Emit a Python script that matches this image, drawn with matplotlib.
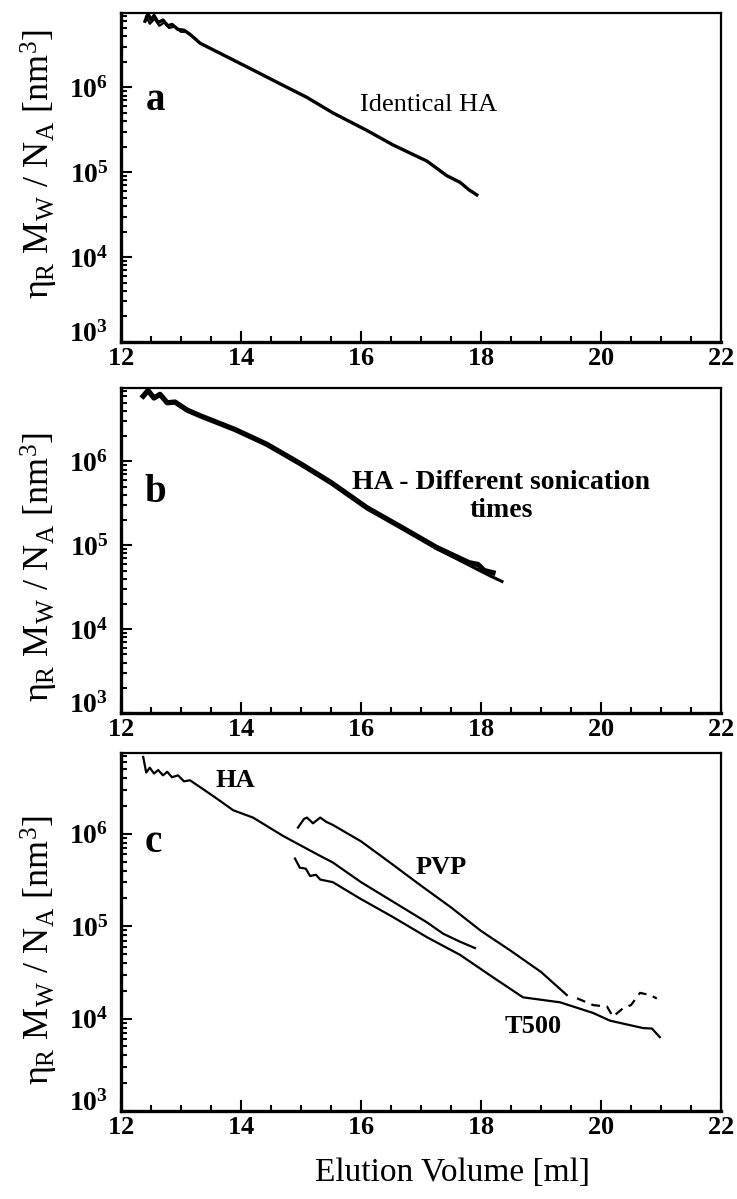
import matplotlib
matplotlib.use('Agg')
import matplotlib.pyplot as plt
from matplotlib.ticker import FixedLocator, MultipleLocator, LogLocator, NullFormatter

plt.rcParams['font.family'] = ['Liberation Serif', 'DejaVu Serif']
plt.rcParams['mathtext.fontset'] = 'custom'
plt.rcParams['mathtext.rm'] = 'Liberation Serif'
plt.rcParams['mathtext.it'] = 'Liberation Serif'
plt.rcParams['mathtext.bf'] = 'Liberation Serif:bold'

# panel a : identical HA
a_x = [12.40, 12.45, 12.50, 12.55, 12.62, 12.70, 12.78, 12.85, 12.95, 13.05, 13.15, 13.32,
       13.87, 14.20, 14.65, 15.10, 15.53, 16.10, 16.53, 17.10, 17.43, 17.65, 17.80, 17.93]
a_y = [6.0e6, 7.4e6, 6.2e6, 7.0e6, 5.8e6, 6.2e6, 5.3e6, 5.5e6, 4.8e6, 4.7e6, 4.2e6, 3.3e6,
       2.1e6, 1.6e6, 1.1e6, 7.6e5, 5.0e5, 3.1e5, 2.1e5, 1.35e5, 9.1e4, 7.6e4, 6.2e4, 5.4e4]
a2_x = [12.42, 12.48, 12.56, 12.64, 12.72, 12.80, 12.90, 13.00, 13.10, 13.25]
a2_y = [6.8e6, 5.6e6, 6.4e6, 5.3e6, 5.8e6, 5.0e6, 5.2e6, 4.5e6, 4.5e6, 3.7e6]

# panel b : HA, different sonication times
b_x = [12.37, 12.45, 12.55, 12.65, 12.77, 12.90, 13.10, 13.32, 13.90, 14.43, 15.00,
       15.50, 16.10, 16.70, 17.25, 17.80, 17.95, 18.05, 18.20]
b_y = [6.0e6, 7.0e6, 5.7e6, 6.3e6, 5.0e6, 5.1e6, 4.1e6, 3.5e6, 2.4e6, 1.6e6, 9.3e5,
       5.6e5, 2.8e5, 1.6e5, 9.5e4, 6.2e4, 5.9e4, 5.0e4, 4.7e4]
b2_x = [17.25, 17.80, 18.10, 18.35]
b2_y = [9.2e4, 5.8e4, 4.5e4, 3.7e4]

# panel c : HA, PVP, T500
ha_x = [12.37, 12.42, 12.48, 12.55, 12.62, 12.70, 12.77, 12.85, 12.95, 13.05, 13.15, 13.32,
        13.60, 13.87, 14.20, 14.70, 15.27, 15.53, 16.00, 16.53, 17.10, 17.37, 17.65, 17.90]
ha_y = [6.8e6, 4.6e6, 5.2e6, 4.5e6, 4.9e6, 4.3e6, 4.7e6, 4.1e6, 4.3e6, 3.7e6, 3.8e6, 3.2e6,
        2.4e6, 1.8e6, 1.5e6, 9.5e5, 6.0e5, 4.9e5, 3.0e5, 1.85e5, 1.1e5, 8.3e4, 6.8e4, 5.8e4]
t500_x = [14.90, 14.98, 15.08, 15.15, 15.25, 15.32, 15.53, 15.98, 16.53, 17.10, 17.65,
          18.20, 18.70, 19.32, 19.87, 20.15, 20.70, 20.85, 20.98]
t500_y = [5.4e5, 4.3e5, 4.2e5, 3.5e5, 3.6e5, 3.2e5, 3.0e5, 2.0e5, 1.26e5, 7.6e4, 4.9e4,
          2.8e4, 1.7e4, 1.5e4, 1.15e4, 9.5e3, 7.9e3, 7.8e3, 6.3e3]
pvp_x = [14.95, 15.05, 15.10, 15.20, 15.32, 15.42, 15.53, 16.00, 16.50, 17.00, 17.50,
         18.00, 18.50, 19.00, 19.43]
pvp_y = [1.17e6, 1.45e6, 1.5e6, 1.3e6, 1.5e6, 1.35e6, 1.25e6, 8.3e5, 4.8e5, 2.75e5, 1.6e5,
         8.9e4, 5.4e4, 3.2e4, 1.8e4]
pvp_tail_x = [19.60, 19.87, 20.10, 20.20, 20.37, 20.50, 20.65, 20.82, 20.93]
pvp_tail_y = [1.66e4, 1.4e4, 1.35e4, 1.05e4, 1.3e4, 1.4e4, 1.9e4, 1.8e4, 1.65e4]

y_ticks = [1e3, 1e4, 1e5, 1e6]
y_ticklabels = [r'$\mathbf{10^{3}}$', r'$\mathbf{10^{4}}$', r'$\mathbf{10^{5}}$', r'$\mathbf{10^{6}}$']
x_ticks = [12, 14, 16, 18, 20, 22]
ylab = r'$\eta_{\mathrm{R}}\ \mathrm{M}_{\mathrm{W}}\ /\ \mathrm{N}_{\mathrm{A}}\ [\mathrm{nm}^{3}]$'

W, H = 737, 1199
fig = plt.figure(figsize=(W / 100, H / 100), dpi=100)


def make_ax(top, bottom, label_y):
    ax = fig.add_axes([121 / W, (H - bottom) / H, 600 / W, (bottom - top) / H])
    ax.set_xlim(12, 22)
    ax.set_yscale('log')
    ax.set_ylim(1e3, 7.5e6)
    ax.xaxis.set_major_locator(FixedLocator(x_ticks))
    ax.xaxis.set_minor_locator(MultipleLocator(0.5))
    ax.yaxis.set_major_locator(FixedLocator(y_ticks))
    ax.set_yticklabels(y_ticklabels)
    ax.set_xticklabels([r'$\mathbf{%d}$' % t for t in x_ticks])
    ax.yaxis.set_minor_locator(LogLocator(base=10, subs=range(2, 10)))
    ax.yaxis.set_minor_formatter(NullFormatter())
    ax.tick_params(which='both', direction='in', top=False, right=False, width=1.5)
    ax.tick_params(which='major', length=8)
    ax.tick_params(which='minor', length=4)
    ax.tick_params(axis='x', pad=4, labelsize=19)
    ax.tick_params(axis='y', pad=9, labelsize=20)
    for s in ax.spines.values():
        s.set_linewidth(1.6)
    ax.spines['bottom'].set_linewidth(2.4)
    ax.spines['left'].set_linewidth(2.4)
    ax.set_ylabel(ylab, fontsize=26)
    ax.yaxis.set_label_coords(-0.102, label_y)
    # 10^3 sits on the corner, clear of the "12"
    ax.get_yticklabels()[0].set_va('baseline')
    return ax


ax1 = make_ax(13, 342, 0.54)
ax1.plot(a_x, a_y, color='black', lw=2.4)
ax1.plot(a2_x, a2_y, color='black', lw=1.6)
ax1.text(12.58, 7.0e5, 'a', fontsize=28, fontweight='bold', ha='center', va='center')
ax1.text(17.12, 6.2e5, 'Identical HA', fontsize=19, ha='center', va='center')

ax2 = make_ax(388, 713, 0.45)
ax2.plot(b_x, b_y, color='black', lw=3.8)
ax2.plot(b2_x, b2_y, color='black', lw=2.2)
ax2.text(12.58, 4.3e5, 'b', fontsize=28, fontweight='bold', ha='center', va='center')
ax2.text(18.34, 3.8e5, 'HA - Different sonication\ntimes', fontsize=20, fontweight='bold',
         ha='center', va='center', linespacing=1.15)

ax3 = make_ax(753, 1111, 0.45)
ax3.plot(ha_x, ha_y, color='black', lw=1.6)
ax3.plot(t500_x, t500_y, color='black', lw=1.6)
ax3.plot(pvp_x, pvp_y, color='black', lw=1.6)
ax3.plot(pvp_tail_x, pvp_tail_y, color='black', lw=1.6, ls=(0, (4, 3)))
ax3.text(12.53, 8.0e5, 'c', fontsize=28, fontweight='bold', ha='center', va='center')
ax3.text(13.9, 3.8e6, 'HA', fontsize=19, fontweight='bold', ha='center', va='center')
ax3.text(17.33, 4.3e5, 'PVP', fontsize=19, fontweight='bold', ha='center', va='center')
ax3.text(18.87, 8.3e3, 'T500', fontsize=19, fontweight='bold', ha='center', va='center')
ax3.set_xlabel('Elution Volume [ml]', fontsize=24, labelpad=16)
ax3.xaxis.set_label_coords(0.553, -0.13)

fig.savefig('out.png', dpi=100)
